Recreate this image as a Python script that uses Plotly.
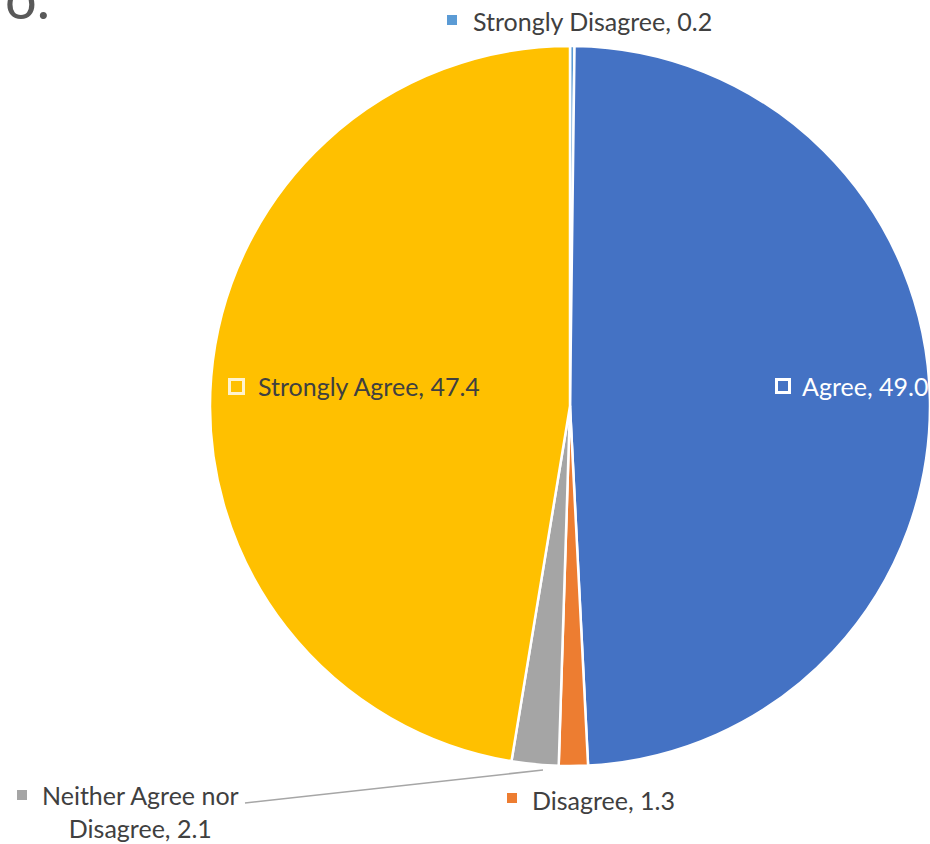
import plotly.graph_objects as go

# Data
labels = ["Strongly Disagree", "Agree", "Disagree", "Neither Agree nor Disagree", "Strongly Agree"]
values = [0.2, 49.0, 1.3, 2.1, 47.4]
colors = ["#5B9BD5", "#4472C4", "#ED7D31", "#A5A5A5", "#FFC000"]

W, H = 930, 844
FONT = "Lato"
TXT = "#404040"
FS = 25


def px(x):
    return x / W


def py(y):
    return 1 - y / H


fig = go.Figure()

fig.add_trace(go.Pie(
    labels=labels,
    values=values,
    sort=False,
    direction="clockwise",
    rotation=0,
    marker=dict(colors=colors, line=dict(color="white", width=2.5)),
    textinfo="none",
    hoverinfo="label+value",
    showlegend=False,
    domain=dict(x=[px(210), 1.0], y=[py(770), py(42)]),
))

lab = {l: f"{l}, {v:.1f}" for l, v in zip(labels, values)}

annos = [
    dict(x=px(471), y=py(21), xanchor="left", text=lab[labels[0]], font=dict(color=TXT)),
    dict(x=px(800), y=py(386), xanchor="left", text=lab[labels[1]], font=dict(color="white")),
    dict(x=px(256), y=py(386), xanchor="left", text=lab[labels[4]], font=dict(color=TXT)),
    dict(x=px(530), y=py(800), xanchor="left", text=lab[labels[2]], font=dict(color=TXT)),
    dict(x=px(140), y=py(811), xanchor="center", align="center",
         text=f"Neither Agree nor<br>Disagree, {values[3]:.1f}", font=dict(color=TXT)),
    # cut-off title fragment
    dict(x=px(3), y=py(-3), xanchor="left", text="o.", font=dict(size=56, color="#595959")),
]
for a in annos:
    a.update(xref="paper", yref="paper", yanchor="middle", showarrow=False)
    a["font"] = dict(family=FONT, size=a["font"].get("size", FS), color=a["font"]["color"])


def key(x0, y0, x1, y1, fill, line=None, lw=0):
    return dict(type="rect", xref="paper", yref="paper",
                x0=px(x0), y0=py(y1), x1=px(x1), y1=py(y0),
                fillcolor=fill, line=dict(color=line or fill, width=lw))


shapes = [
    key(447, 15, 457, 25, colors[0]),
    key(17, 790, 27, 800, colors[3]),
    key(507, 793, 517, 803, colors[2]),
    key(776.5, 379.5, 789.5, 392.5, colors[1], "white", 3),
    key(229.5, 379.5, 243.5, 393.5, colors[4], "#FFF3CF", 3),
    # leader line for the "Neither" label
    dict(type="line", xref="paper", yref="paper",
         x0=px(245), y0=py(803), x1=px(543), y1=py(770),
         line=dict(color="#A6A6A6", width=1.5)),
]

fig.update_layout(
    width=W, height=H,
    margin=dict(l=0, r=0, t=0, b=0),
    paper_bgcolor="white",
    plot_bgcolor="white",
    annotations=annos,
    shapes=shapes,
)

fig.write_html("out.html", config={"displayModeBar": False},
               post_script="document.body.style.margin='0';document.documentElement.style.overflow='hidden';")
